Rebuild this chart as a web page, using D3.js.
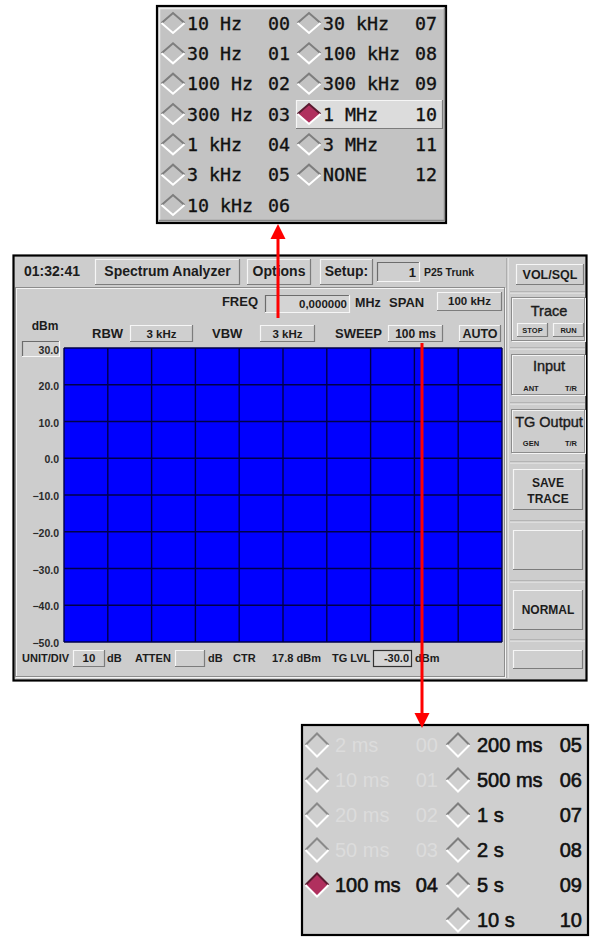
<!DOCTYPE html>
<html><head><meta charset="utf-8">
<script src="https://cdn.jsdelivr.net/npm/d3@7"></script>
<style>html,body{margin:0;padding:0;background:#fff;}svg{display:block;}</style>
</head><body>
<script>
// ---- data ----
const yTicks = [30, 20, 10, 0, -10, -20, -30, -40, -50];
const xDivisions = [0, 1, 2, 3, 4, 5, 6, 7, 8, 9, 10];
const rbwLabels = ["10 Hz","30 Hz","100 Hz","300 Hz","1 kHz","3 kHz","10 kHz","30 kHz","100 kHz","300 kHz","1 MHz","3 MHz","NONE"];
const rbwCodes = ["00","01","02","03","04","05","06","07","08","09","10","11","12"];
const rbwSelected = "10";
const sweepLabels = ["2 ms","10 ms","20 ms","50 ms","100 ms","200 ms","500 ms","1 s","2 s","5 s","10 s"];
const sweepCodes = ["00","01","02","03","04","05","06","07","08","09","10"];
const sweepDisabled = ["00","01","02","03"];
const sweepSelected = "04";
const clockText = "01:32:41";
const freqValue = "0,000000";
const spanValue = "100 kHz";
const rbwValue = "3 kHz", vbwValue = "3 kHz", sweepValue = "100 ms";
const unitDiv = "10", ctrValue = "17.8 dBm", tgLevel = "-30.0";

const W = 591, H = 938;
const FONT = "'Liberation Sans', Arial, sans-serif";
const TXT = "#1c1c1c";
const svg = d3.select("body").append("svg").attr("width", W).attr("height", H);
svg.append("rect").attr("width", W).attr("height", H).attr("fill", "#fff");

function bevel(g, x, y, w, h, type, fill) {
  const light = type === "raised" ? "#f6f6f6" : "#6c6c6c";
  const dark = type === "raised" ? "#7c7c7c" : "#f6f6f6";
  g.append("rect").attr("x", x).attr("y", y).attr("width", w).attr("height", h).attr("fill", fill || "#cfcfcf");
  g.append("path").attr("d", `M${x+0.5},${y+h}V${y+0.5}H${x+w}`).attr("fill","none").attr("stroke", light).attr("stroke-width", 1.2);
  g.append("path").attr("d", `M${x+w-0.5},${y}V${y+h-0.5}H${x}`).attr("fill","none").attr("stroke", dark).attr("stroke-width", 1.2);
}
function etched(g, x, y, w, h) {
  g.append("rect").attr("x", x+0.5).attr("y", y+0.5).attr("width", w).attr("height", h).attr("fill","none").attr("stroke","#f4f4f4");
  g.append("rect").attr("x", x-0.5).attr("y", y-0.5).attr("width", w).attr("height", h).attr("fill","none").attr("stroke","#8c8c8c");
}
function txt(g, x, y, s, size, opts = {}) {
  const t = g.append("text").attr("x", x).attr("y", y).text(s)
    .attr("font-family", opts.family || FONT).attr("font-size", size)
    .attr("font-weight", opts.weight || "bold").attr("fill", opts.fill || TXT)
    .attr("text-anchor", opts.anchor || "start").attr("dy", opts.dy || null);
  if (opts.stroke) t.attr("stroke", opts.fill || TXT).attr("stroke-width", opts.stroke);
  return t;
}
function diamond(g, cx, cy, rx, ry, selected, faded) {
  if (selected) {
    g.append("path").attr("d", `M${cx-rx},${cy}L${cx},${cy-ry}L${cx+rx},${cy}L${cx},${cy+ry}Z`).attr("fill", "#b0305e");
  }
  g.append("path").attr("d", `M${cx-rx},${cy}L${cx},${cy-ry}L${cx+rx},${cy}`).attr("fill","none")
    .attr("stroke", faded ? "#8a8a8a" : (selected ? "#5a1a30" : "#7e7e7e")).attr("stroke-width", 2);
  g.append("path").attr("d", `M${cx-rx},${cy}L${cx},${cy+ry}L${cx+rx},${cy}`).attr("fill","none")
    .attr("stroke", "#ffffff").attr("stroke-width", 2);
}

// ---- top menu (RBW options) ----
const tm = svg.append("g");
tm.append("rect").attr("x", 157).attr("y", 6).attr("width", 289).attr("height", 217).attr("fill", "#c3c3c3").attr("stroke", "#000").attr("stroke-width", 2.2);
tm.append("path").attr("d", "M159.5,221V8.5H444").attr("fill","none").attr("stroke","#ececec").attr("stroke-width",1.5);
tm.append("path").attr("d", "M444.5,8V220.5H159").attr("fill","none").attr("stroke","#8a8a8a").attr("stroke-width",1.5);
const tmRow = d3.scaleLinear().domain([0, 6]).range([23, 205]);
const tmCols = [{d: 173, l: 187, c: 268}, {d: 309, l: 323, c: 415}];
rbwLabels.forEach((lab, i) => {
  const col = i < 7 ? 0 : 1, row = i < 7 ? i : i - 7;
  const cy = tmRow(row), c = tmCols[col];
  const sel = rbwCodes[i] === rbwSelected;
  if (sel) bevel(tm, 296, cy - 14, 147, 29, "raised", "#dcdcdc");
  diamond(tm, c.d, cy, 11.5, 10, sel, false);
  txt(tm, c.l, cy, lab, 18.3, {family: "'DejaVu Sans Mono', monospace", weight: "normal", dy: "0.36em", fill: "#111", stroke: 0.35});
  txt(tm, c.c, cy, rbwCodes[i], 18.3, {family: "'DejaVu Sans Mono', monospace", weight: "normal", dy: "0.36em", fill: "#111", stroke: 0.35});
});

// ---- main window ----
const mw = svg.append("g");
mw.append("rect").attr("x", 13.5).attr("y", 255.5).attr("width", 573).attr("height", 425).attr("fill", "#cdcdcd").attr("stroke", "#000").attr("stroke-width", 2.2);
etched(mw, 16, 288, 489, 389);
mw.append("line").attr("x1", 507).attr("x2", 507).attr("y1", 258).attr("y2", 678).attr("stroke", "#8c8c8c");
mw.append("line").attr("x1", 508).attr("x2", 508).attr("y1", 258).attr("y2", 678).attr("stroke", "#f4f4f4");

// top bar
txt(mw, 24, 276, clockText, 14);
bevel(mw, 95, 259, 145, 26, "raised");
txt(mw, 167.5, 276, "Spectrum Analyzer", 14, {anchor: "middle"});
bevel(mw, 247, 259, 64, 26, "raised");
txt(mw, 279, 276, "Options", 14, {anchor: "middle"});
bevel(mw, 320, 259, 53, 26, "raised");
txt(mw, 346.5, 276, "Setup:", 14, {anchor: "middle"});
bevel(mw, 377, 262, 43, 20, "sunken");
txt(mw, 416, 277, "1", 13, {anchor: "end"});
txt(mw, 424, 276, "P25 Trunk", 10.5);

// FREQ row
txt(mw, 258, 306, "FREQ", 13, {anchor: "end"});
bevel(mw, 265, 295, 85, 18, "sunken", "#d4d4d4");
txt(mw, 347, 308, freqValue, 11.5, {anchor: "end"});
txt(mw, 355, 307, "MHz", 12.5);
txt(mw, 389, 307, "SPAN", 13);
bevel(mw, 437, 292, 65, 19, "raised");
txt(mw, 469.5, 305, spanValue, 11.5, {anchor: "middle"});

// RBW row
txt(mw, 45, 330, "dBm", 12, {anchor: "middle"});
txt(mw, 92, 338, "RBW", 13);
bevel(mw, 130, 325, 63, 17, "raised");
txt(mw, 161.5, 338, rbwValue, 11.5, {anchor: "middle"});
txt(mw, 212, 338, "VBW", 13);
bevel(mw, 260, 325, 55, 17, "raised");
txt(mw, 287.5, 338, vbwValue, 11.5, {anchor: "middle"});
txt(mw, 335, 338, "SWEEP", 13);
bevel(mw, 388, 325, 55, 17, "raised");
txt(mw, 415.5, 338, sweepValue, 12, {anchor: "middle"});
bevel(mw, 459, 325, 42, 17, "raised");
txt(mw, 480, 338, "AUTO", 12.5, {anchor: "middle"});

// ---- plot ----
const x = d3.scaleLinear().domain([0, 10]).range([64, 502]);
const y = d3.scaleLinear().domain([-50, 30]).range([642, 348]);
const plot = svg.append("g");
plot.append("rect").attr("x", x(0)).attr("y", y(30)).attr("width", x(10) - x(0)).attr("height", y(-50) - y(30)).attr("fill", "#0000ff");
plot.selectAll("line.v").data(xDivisions).join("line").attr("class", "v")
  .attr("x1", d => x(d)).attr("x2", d => x(d)).attr("y1", y(30)).attr("y2", y(-50))
  .attr("stroke", "#00004a").attr("stroke-width", 1.4);
plot.selectAll("line.h").data(yTicks).join("line").attr("class", "h")
  .attr("x1", x(0)).attr("x2", x(10)).attr("y1", d => y(d)).attr("y2", d => y(d))
  .attr("stroke", "#00004a").attr("stroke-width", 1.4);
bevel(mw, 22, 341, 38, 16, "sunken", "#d2d2d2");
const yAxis = d3.axisLeft(y).tickValues(yTicks).tickSize(0).tickPadding(0).tickFormat(d3.format(".1f"));
const ya = svg.append("g").attr("transform", "translate(59,0)").call(yAxis);
ya.select(".domain").remove();
ya.selectAll("text").attr("font-family", FONT).attr("font-size", 10.5).attr("font-weight", "bold").attr("fill", "#2a2a2a")
  .attr("dy", d => d === 30 ? "0.55em" : "0.45em");

// bottom row
txt(mw, 22, 662, "UNIT/DIV", 11);
bevel(mw, 73, 650, 32, 17, "raised");
txt(mw, 89, 662, unitDiv, 11.5, {anchor: "middle"});
txt(mw, 107, 662, "dB", 11);
txt(mw, 135, 662, "ATTEN", 11);
bevel(mw, 175, 650, 30, 17, "raised");
txt(mw, 208, 662, "dB", 11);
txt(mw, 233, 662, "CTR", 11);
txt(mw, 272, 662, ctrValue, 11);
txt(mw, 332, 662, "TG LVL", 11);
mw.append("rect").attr("x", 373.5).attr("y", 650.5).attr("width", 38).attr("height", 16).attr("fill", "#d6d6d6").attr("stroke", "#333").attr("stroke-width", 1.2);
txt(mw, 409, 662, tgLevel, 11, {anchor: "end"});
txt(mw, 415, 662, "dBm", 11);

// ---- right column ----
bevel(mw, 516, 264, 68, 21, "raised");
txt(mw, 550, 279, "VOL/SQL", 12.5, {anchor: "middle"});
[292, 348, 403, 462, 521, 581, 640].forEach(yy => {
  mw.append("line").attr("x1", 510).attr("x2", 585).attr("y1", yy).attr("y2", yy).attr("stroke", "#9a9a9a");
  mw.append("line").attr("x1", 510).attr("x2", 585).attr("y1", yy + 1).attr("y2", yy + 1).attr("stroke", "#eeeeee");
});
etched(mw, 512, 298, 73, 43);
txt(mw, 549, 316, "Trace", 14.5, {anchor: "middle", weight: "normal", stroke: 0.4});
bevel(mw, 517, 323, 31, 14, "raised");
txt(mw, 532.5, 333, "STOP", 7.5, {anchor: "middle"});
bevel(mw, 553, 323, 31, 14, "raised");
txt(mw, 568.5, 333, "RUN", 7.5, {anchor: "middle"});

etched(mw, 512, 355, 73, 40);
txt(mw, 549, 371, "Input", 14.5, {anchor: "middle", weight: "normal", stroke: 0.4});
txt(mw, 531, 391, "ANT", 7.5, {anchor: "middle"});
txt(mw, 571, 391, "T/R", 7.5, {anchor: "middle"});

etched(mw, 512, 410, 73, 43);
txt(mw, 549, 427, "TG Output", 14.5, {anchor: "middle", weight: "normal", stroke: 0.4});
txt(mw, 531, 446, "GEN", 7.5, {anchor: "middle"});
txt(mw, 571, 446, "T/R", 7.5, {anchor: "middle"});

bevel(mw, 513, 469, 70, 41, "raised");
txt(mw, 548, 487, "SAVE", 12, {anchor: "middle"});
txt(mw, 548, 503, "TRACE", 12, {anchor: "middle"});
bevel(mw, 513, 530, 70, 40, "raised");
bevel(mw, 513, 590, 70, 40, "raised");
txt(mw, 548, 614, "NORMAL", 12, {anchor: "middle"});
bevel(mw, 513, 650, 70, 19, "raised");

// ---- bottom menu (SWEEP options) ----
const bm = svg.append("g");
bm.append("rect").attr("x", 302).attr("y", 725).attr("width", 286).attr("height", 210).attr("fill", "#cfcfcf").attr("stroke", "#000").attr("stroke-width", 2.2);
const bmRow = d3.scaleLinear().domain([0, 5]).range([745, 920]);
const bmCols = [{d: 317, l: 335, c: 438}, {d: 458, l: 477, c: 582}];
sweepLabels.forEach((lab, i) => {
  const col = i < 5 ? 0 : 1, row = i < 5 ? i : i - 5;
  const cy = bmRow(row), c = bmCols[col];
  const code = sweepCodes[i];
  const faded = sweepDisabled.includes(code), sel = code === sweepSelected;
  diamond(bm, c.d, cy, 11.5, 11.5, sel, faded);
  const fill = faded ? "#dcdcdc" : "#111";
  txt(bm, c.l, cy, lab, 20, {weight: "normal", dy: "0.36em", fill, stroke: faded ? null : 0.6});
  txt(bm, c.c, cy, code, 20, {weight: "normal", dy: "0.36em", fill, anchor: "end", stroke: faded ? null : 0.6});
});

// ---- red arrows ----
const ar = svg.append("g").attr("fill", "#ff0000").attr("stroke", "#ff0000");
ar.append("line").attr("x1", 278).attr("x2", 278).attr("y1", 318).attr("y2", 236).attr("stroke-width", 3);
ar.append("path").attr("d", "M278,224L285.5,239H270.5Z").attr("stroke", "none");
ar.append("line").attr("x1", 422).attr("x2", 422).attr("y1", 343).attr("y2", 716).attr("stroke-width", 3);
ar.append("path").attr("d", "M422,728L429.5,713H414.5Z").attr("stroke", "none");
</script>
</body></html>
